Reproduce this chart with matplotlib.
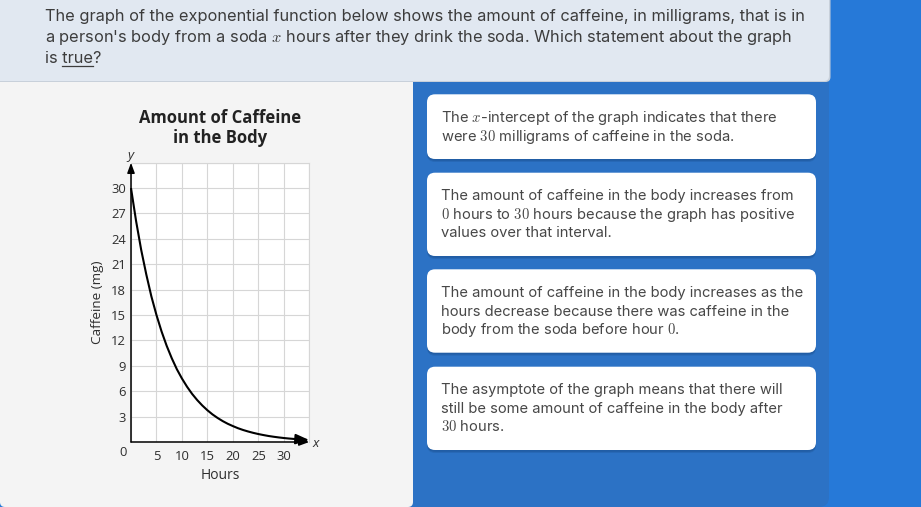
import matplotlib
matplotlib.use('Agg')
import matplotlib.pyplot as plt
from matplotlib.patches import FancyBboxPatch

plt.rcParams['mathtext.fontset'] = 'cm'

W, H = 921, 507
BODY_FONT = 'Inter'
CHART_FONT = 'Open Sans'

# values, one per hour
hours = list(range(0, 36))
caffeine = [30.0, 26.1, 22.7, 19.8, 17.2, 15.0, 13.06, 11.37, 9.9, 8.6,
            7.5, 6.53, 5.68, 4.95, 4.31, 3.75, 3.26, 2.84, 2.47, 2.15,
            1.88, 1.63, 1.42, 1.24, 1.08, 0.94, 0.82, 0.71, 0.62, 0.54,
            0.47, 0.41, 0.36, 0.31, 0.27, 0.23]

x_ticks = [0, 5, 10, 15, 20, 25, 30, 35]
x_labels = ['', '5', '10', '15', '20', '25', '30', '']
y_ticks = [0, 3, 6, 9, 12, 15, 18, 21, 24, 27, 30, 33]
y_labels = ['', '3', '6', '9', '12', '15', '18', '21', '24', '27', '30', '']

chart_title = ['Amount of Caffeine', 'in the Body']
x_title = 'Hours'
y_title = 'Caffeine (mg)'

question = [
    "The graph of the exponential function below shows the amount of caffeine, in milligrams, that is in",
    "a person's body from a soda $x$ hours after they drink the soda. Which statement about the graph",
    "is true?",
]
answers = [
    ["The $x$-intercept of the graph indicates that there",
     "were $30$ milligrams of caffeine in the soda."],
    ["The amount of caffeine in the body increases from",
     "$0$ hours to $30$ hours because the graph has positive",
     "values over that interval."],
    ["The amount of caffeine in the body increases as the",
     "hours decrease because there was caffeine in the",
     "body from the soda before hour $0$."],
    ["The asymptote of the graph means that there will",
     "still be some amount of caffeine in the body after",
     "$30$ hours."],
]

fig = plt.figure(figsize=(W / 100, H / 100), dpi=100)
fig.patch.set_facecolor('#2679d8')

# page background drawn in pixel coordinates
bg = fig.add_axes([0, 0, 1, 1])
bg.set_xlim(0, W)
bg.set_ylim(H, 0)
bg.axis('off')

bg.add_patch(FancyBboxPatch((0, -20), 829, H + 20, boxstyle='round,pad=0,rounding_size=10',
                            fc='#2c72c5', ec='none'))
bg.add_patch(FancyBboxPatch((0, 60), 413, H - 60, boxstyle='round,pad=0,rounding_size=5',
                            fc='#f4f4f4', ec='none'))
bg.add_patch(FancyBboxPatch((-20, -20), 850.5, 102, boxstyle='round,pad=0,rounding_size=5',
                            fc='#c8d0da', ec='none'))
bg.add_patch(FancyBboxPatch((-20, -20), 849, 101, boxstyle='round,pad=0,rounding_size=5',
                            fc='#e1e8f1', ec='none'))

renderer = fig.canvas.get_renderer()

# question text
q_base = [21.3, 42.3, 62.9]
q_size = 11.8
for i, line in enumerate(question):
    bg.text(45, q_base[i], line, fontsize=q_size, color='#3c3c3c',
            family=BODY_FONT, va='baseline', ha='left')


def text_width(s, size, family):
    t = bg.text(0, 0, s, fontsize=size, family=family)
    w = t.get_window_extent(renderer).width
    t.remove()
    return w


w_is = text_width('is', q_size, BODY_FONT)
w_true = text_width('true', q_size, BODY_FONT)
u0 = 45 + w_is + q_size * 1.389 * 0.27
bg.plot([u0, u0 + w_true], [q_base[2] + 3, q_base[2] + 3], color='#3c3c3c', lw=0.9)

# answer cards
card_top = [94.3, 172.7, 269.3, 366.7]
card_bot = [159.0, 256.0, 352.7, 450.0]
card_base = [[122.0, 141.0],
             [200.0, 219.0, 237.0],
             [297.3, 316.5, 334.3],
             [394.0, 412.7, 430.7]]
for k, lines in enumerate(answers):
    y0, y1 = card_top[k], card_bot[k]
    for off, a in [(3.0, 0.18), (1.8, 0.25)]:
        bg.add_patch(FancyBboxPatch((427, y0 + off), 389, y1 - y0, boxstyle='round,pad=0,rounding_size=8',
                                    fc='#123f73', ec='none', alpha=a))
    bg.add_patch(FancyBboxPatch((427, y0), 389, y1 - y0, boxstyle='round,pad=0,rounding_size=8',
                                fc='white', ec='none'))
    for j, line in enumerate(lines):
        bg.text(441, card_base[k][j], line, fontsize=10.6, color='#474747',
                family=BODY_FONT, va='baseline', ha='left')

# chart
ax_l, ax_r, ax_t, ax_b = 131, 309.3, 162.7, 442
ax = fig.add_axes([ax_l / W, (H - ax_b) / H, (ax_r - ax_l) / W, (ax_b - ax_t) / H])
ax.set_facecolor('white')
ax.set_xlim(0, 35)
ax.set_ylim(0, 33)
ax.set_xticks(x_ticks)
ax.set_xticklabels(x_labels)
ax.set_yticks(y_ticks)
ax.set_yticklabels(y_labels)
ax.grid(True, color='#d6d6d6', lw=0.8)
ax.tick_params(length=0, labelsize=9.4, labelcolor='#2e2e2e')
ax.tick_params(axis='x', pad=5.5)
ax.tick_params(axis='y', pad=3.5)
for lab in ax.get_xticklabels() + ax.get_yticklabels():
    lab.set_family(CHART_FONT)
for s in ['top', 'right']:
    ax.spines[s].set_color('#d6d6d6')
    ax.spines[s].set_linewidth(0.8)
for s in ['left', 'bottom']:
    ax.spines[s].set_visible(False)

ax.plot(hours[:-1], caffeine[:-1], color='black', lw=1.5, solid_capstyle='butt', clip_on=False, zorder=4)
ax.annotate('', xy=(hours[-1], caffeine[-1]), xytext=(hours[-2], caffeine[-2]),
            arrowprops=dict(arrowstyle='-|>,head_length=0.8,head_width=0.3', color='black', lw=1.5,
                            shrinkA=0, shrinkB=0), annotation_clip=False, zorder=4)
ax.annotate('', xy=(35, 0), xytext=(0, 0),
            arrowprops=dict(arrowstyle='-|>,head_length=0.6,head_width=0.22', color='black', lw=1.1,
                            shrinkA=0, shrinkB=0), annotation_clip=False, zorder=5)
ax.annotate('', xy=(0, 33), xytext=(0, 0),
            arrowprops=dict(arrowstyle='-|>,head_length=0.6,head_width=0.22', color='black', lw=1.1,
                            shrinkA=0, shrinkB=0), annotation_clip=False, zorder=5)

ax.set_xlabel(x_title, family=CHART_FONT, fontsize=10.0, color='#2e2e2e', labelpad=4)
ax.set_ylabel(y_title, family=CHART_FONT, fontsize=9.7, color='#2e2e2e', labelpad=5)

# chart title and axis letters in pixel space
bg.text(220, 123.3, chart_title[0], family=CHART_FONT, fontsize=12.0, fontweight='bold',
        color='#222222', ha='center', va='baseline')
bg.text(220, 143.3, chart_title[1], family=CHART_FONT, fontsize=12.0, fontweight='bold',
        color='#222222', ha='center', va='baseline')
bg.text(130.7, 155, 'y', family=CHART_FONT, fontsize=9.5, style='italic', color='#2e2e2e',
        ha='center', va='center')
bg.text(316, 443.3, 'x', family=CHART_FONT, fontsize=9.5, style='italic', color='#2e2e2e',
        ha='center', va='center')
bg.text(123.5, 452.7, '0', family=CHART_FONT, fontsize=9.4, color='#2e2e2e', ha='center', va='center')

fig.savefig('out.png', dpi=100, facecolor=fig.get_facecolor())
